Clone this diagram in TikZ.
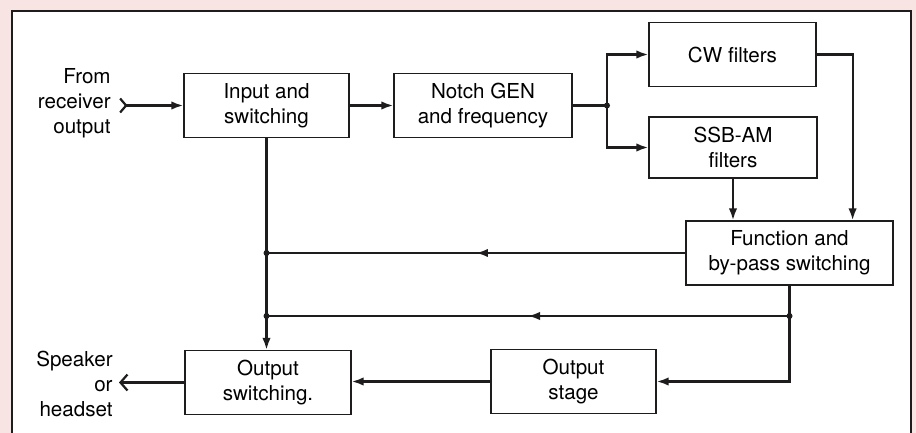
\documentclass[tikz,border=0pt]{standalone}
\usepackage{fontspec}
\setmainfont{TeX Gyre Heros}
\usetikzlibrary{arrows.meta,decorations.markings}
\definecolor{paper}{RGB}{249,228,228}
\definecolor{ink}{RGB}{30,28,28}
\tikzset{
  block/.style={draw=ink, line width=0.6pt, minimum height=32pt, align=center,
    font=\fontsize{10.3}{12.5}\selectfont},
  lbl/.style={align=right, anchor=east, inner sep=0pt, font=\fontsize{10.3}{12.5}\selectfont},
  sig/.style={draw=ink, line width=1.1pt, -{Latex[length=6pt,width=4.2pt]}},
  wire/.style={draw=ink, line width=1.1pt},
  midarrow/.style={postaction=decorate, decoration={markings,
    mark=at position #1 with {\arrow{Latex[length=6pt,width=4.2pt]}}}},
  jdot/.style={circle, fill=ink, inner sep=0pt, minimum size=3pt}
}
\begin{document}
\begin{tikzpicture}[x=0.5pt,y=-0.5pt]
\fill[paper] (0,0) rectangle (916,433);
\useasboundingbox (0,0) rectangle (916,433);
\filldraw[fill=white, draw=ink, line width=1.2pt] (12,11) rectangle (911,445);

% blocks
\node[block, minimum width=82.5pt] (input) at (266.5,105.5) {Input and\\switching};
\node[block, minimum width=89pt] (notch) at (483,105.5) {Notch GEN\\and frequency};
\node[block, minimum width=83.5pt] (cw) at (732.5,54.5) {CW filters};
\node[block, minimum width=84pt, minimum height=30.5pt] (ssb) at (733,147.5) {SSB-AM\\filters};
\node[block, minimum width=103.5pt] (func) at (789.5,253) {Function and\\by-pass switching};
\node[block, minimum width=82.5pt] (stage) at (573.5,381.5) {Output\\stage};
\node[block, minimum width=83pt] (outsw) at (268,382.5) {Output\\switching.};

% side labels
\node[lbl] (from) at (111,103) {From\\receiver\\output};
\node[lbl] (spk) at (113,384) {Speaker\\or\\headset};
\coordinate (rx) at (119,105.5);
\coordinate (tx) at (119,382.5);

% signal path
\draw[sig, {Straight Barb[reversed,length=3pt,width=7pt]}-{Latex[length=6pt,width=4.2pt]}] (rx) -- (input.west);
\draw[sig] (input.east) -- (notch.west);
\coordinate (split) at (607,105.5);
\draw[sig] (notch.east) -- (split) |- (cw.west);
\draw[sig] (split) |- (ssb.west);
\node[jdot] at (split) {};
\draw[sig] (cw.east) -| ([xshift=-20.5pt]func.north east);
\draw[sig] (ssb.south) -- (ssb.south |- func.north);

% returns
\draw[wire, midarrow=0.5] (func.west) -- (func.west -| input.south) coordinate (j1);
\node[jdot] at (j1) {};
\coordinate (j2) at (func.south |- 0,316);
\draw[wire] (func.south) -- (j2);
\draw[wire, midarrow=0.5] (j2) -- (j2 -| input.south) coordinate (j3);
\node[jdot] at (j2) {};
\node[jdot] at (j3) {};
\draw[sig] (j2) |- (stage.east);
\draw[sig] (input.south) -- (input.south |- outsw.north);
\draw[sig] (stage.west) -- (stage.west -| outsw.east);
\draw[wire, -{Straight Barb[length=3.5pt,width=8pt]}] (outsw.west) -- (tx);
\end{tikzpicture}
\end{document}
